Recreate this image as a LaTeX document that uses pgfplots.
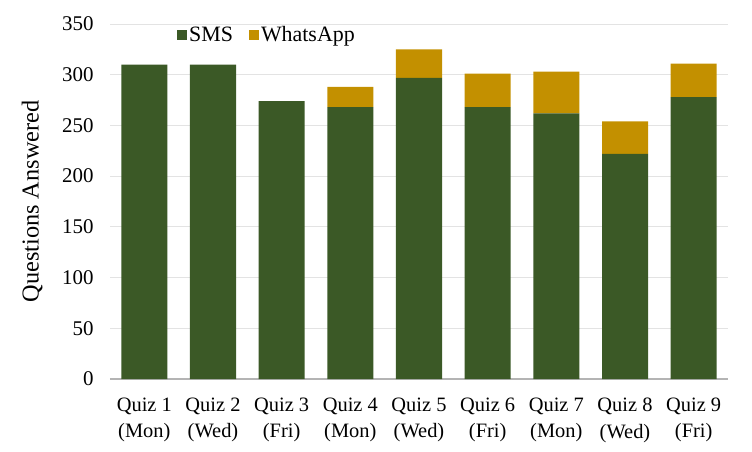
\documentclass[border=0pt]{standalone}
\usepackage{fontspec}
\setmainfont{Liberation Serif}
\usepackage{pgfplots}
\pgfplotsset{compat=1.18}
\definecolor{smsgreen}{HTML}{3B5926}
\definecolor{wagold}{HTML}{C39000}
\definecolor{gridgray}{HTML}{E3E3E3}
\definecolor{axgray}{HTML}{B4B4B4}
\begin{document}
\begin{tikzpicture}
\begin{axis}[
  at={(0,0)}, anchor=south west,
  scale only axis,
  width=618bp, height=355bp,
  ybar stacked,
  bar width=0.67,
  xmin=-0.5, xmax=8.5,
  ymin=0, ymax=350,
  ytick={0,50,...,350},
  xtick={0,1,...,8},
  xticklabels={{Quiz 1\\(Mon)},{Quiz 2\\(Wed)},{Quiz 3\\(Fri)},{Quiz 4\\(Mon)},{Quiz 5\\(Wed)},{Quiz 6\\(Fri)},{Quiz 7\\(Mon)},{Quiz 8\\(Wed)},{Quiz 9\\(Fri)}},
  xticklabel style={align=center, font=\fontsize{20.5}{27}\selectfont, yshift=-15bp},
  yticklabel style={font=\fontsize{21}{24}\selectfont, xshift=-13bp},
  /pgf/number format/assume math mode=true,
  major tick length=0pt,
  ymajorgrids,
  grid style={gridgray, line width=1pt},
  axis x line*=bottom,
  axis y line*=left,
  y axis line style={draw=none},
  x axis line style={axgray, line width=1.5pt, -},
  ylabel={Questions Answered},
  every axis y label/.style={at={(axis description cs:-0.126,0.5)}, rotate=90, anchor=center, font=\fontsize{24.4}{28}\selectfont},
  legend columns=2,
  legend style={at={(0.254,0.969)}, anchor=center, draw=none, fill=none,
    font=\fontsize{22}{26}\selectfont,
    /tikz/every even column/.append style={column sep=14bp}},
  legend image code/.code={\fill[#1] (0bp,-5bp) rectangle (10bp,5bp);},
  clip=false,
]
\addplot[fill=smsgreen, draw=none] coordinates {(0,310) (1,310) (2,274) (3,268) (4,297) (5,268) (6,262) (7,222) (8,278)};
\addlegendentry{SMS}
\addplot[fill=wagold, draw=none] coordinates {(0,0) (1,0) (2,0) (3,20) (4,28) (5,33) (6,41) (7,32) (8,33)};
\addlegendentry{WhatsApp}
\end{axis}
\pgfresetboundingbox
\path (-110bp,-73bp) rectangle (642bp,379bp);
\end{tikzpicture}
\end{document}
